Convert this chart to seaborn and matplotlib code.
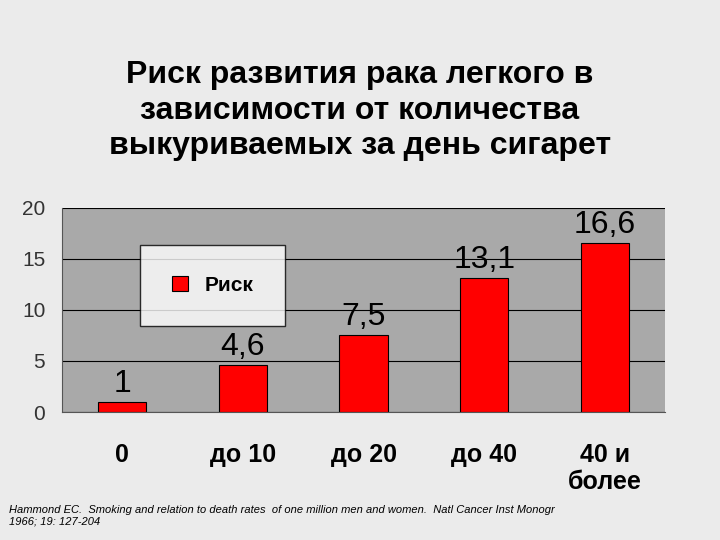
import matplotlib
matplotlib.use("Agg")
import matplotlib.pyplot as plt
import seaborn as sns
import pandas as pd

categories = ["0", "до 10", "до 20", "до 40", "40 и\nболее"]
risk = [1, 4.6, 7.5, 13.1, 16.6]
labels = ["1", "4,6", "7,5", "13,1", "16,6"]

sns.set_style("white")
plt.rcParams['font.family'] = ['Liberation Sans', 'DejaVu Sans']
plt.rcParams['text.color'] = 'black'

fig = plt.figure(figsize=(7.2, 5.4), dpi=100, facecolor='#ebebeb')
ax = fig.add_axes([0.086, 0.237, 0.838, 0.378])
ax.set_facecolor('#a9a9a9')
df = pd.DataFrame({"cat": categories, "risk": risk})
sns.barplot(data=df, x="cat", y="risk", color="red", saturation=1, width=0.4,
            edgecolor="black", linewidth=0.8, ax=ax, label="Риск")
ax.set_ylim(0, 20)
ax.set_yticks([0, 5, 10, 15, 20])
ax.yaxis.grid(True, color='black', linewidth=0.8)
ax.set_axisbelow(True)
for s in ax.spines.values():
    s.set_visible(False)
ax.spines['left'].set_visible(True)
ax.spines['left'].set_color('#555555')
ax.spines['bottom'].set_visible(True)
ax.spines['bottom'].set_color('#555555')
ax.tick_params(axis='y', labelsize=15, length=0, pad=12, labelcolor='#333333')
ax.tick_params(axis='x', labelsize=18, length=0, pad=22, labelcolor='black')
for t in ax.get_xticklabels():
    t.set_fontweight('bold')
ax.set_xlabel("")
ax.set_ylabel("")
for i, (v, l) in enumerate(zip(risk, labels)):
    ax.text(i, v + 0.3, l, ha='center', va='bottom', fontsize=23, color='black')
leg = ax.legend(loc='upper left', bbox_to_anchor=(0.13, 0.82), fontsize=15,
                frameon=True, fancybox=False, edgecolor='black',
                borderpad=1.5, handlelength=0.8, borderaxespad=0)
leg.get_frame().set_facecolor('white')
for t in leg.get_texts():
    t.set_fontweight('bold')
    t.set_color('black')
fig.text(0.5, 0.795, "Риск развития рака легкого в\nзависимости от количества\nвыкуриваемых за день сигарет",
         ha='center', va='center', fontsize=23, fontweight='bold', linespacing=1.25, color='black')
fig.text(0.012, 0.045, "Hammond EC.  Smoking and relation to death rates  of one million men and women.  Natl Cancer Inst Monogr\n1966; 19: 127-204",
         ha='left', va='center', fontsize=8, style='italic', color='black')
fig.savefig("out.png", dpi=100, facecolor=fig.get_facecolor())
